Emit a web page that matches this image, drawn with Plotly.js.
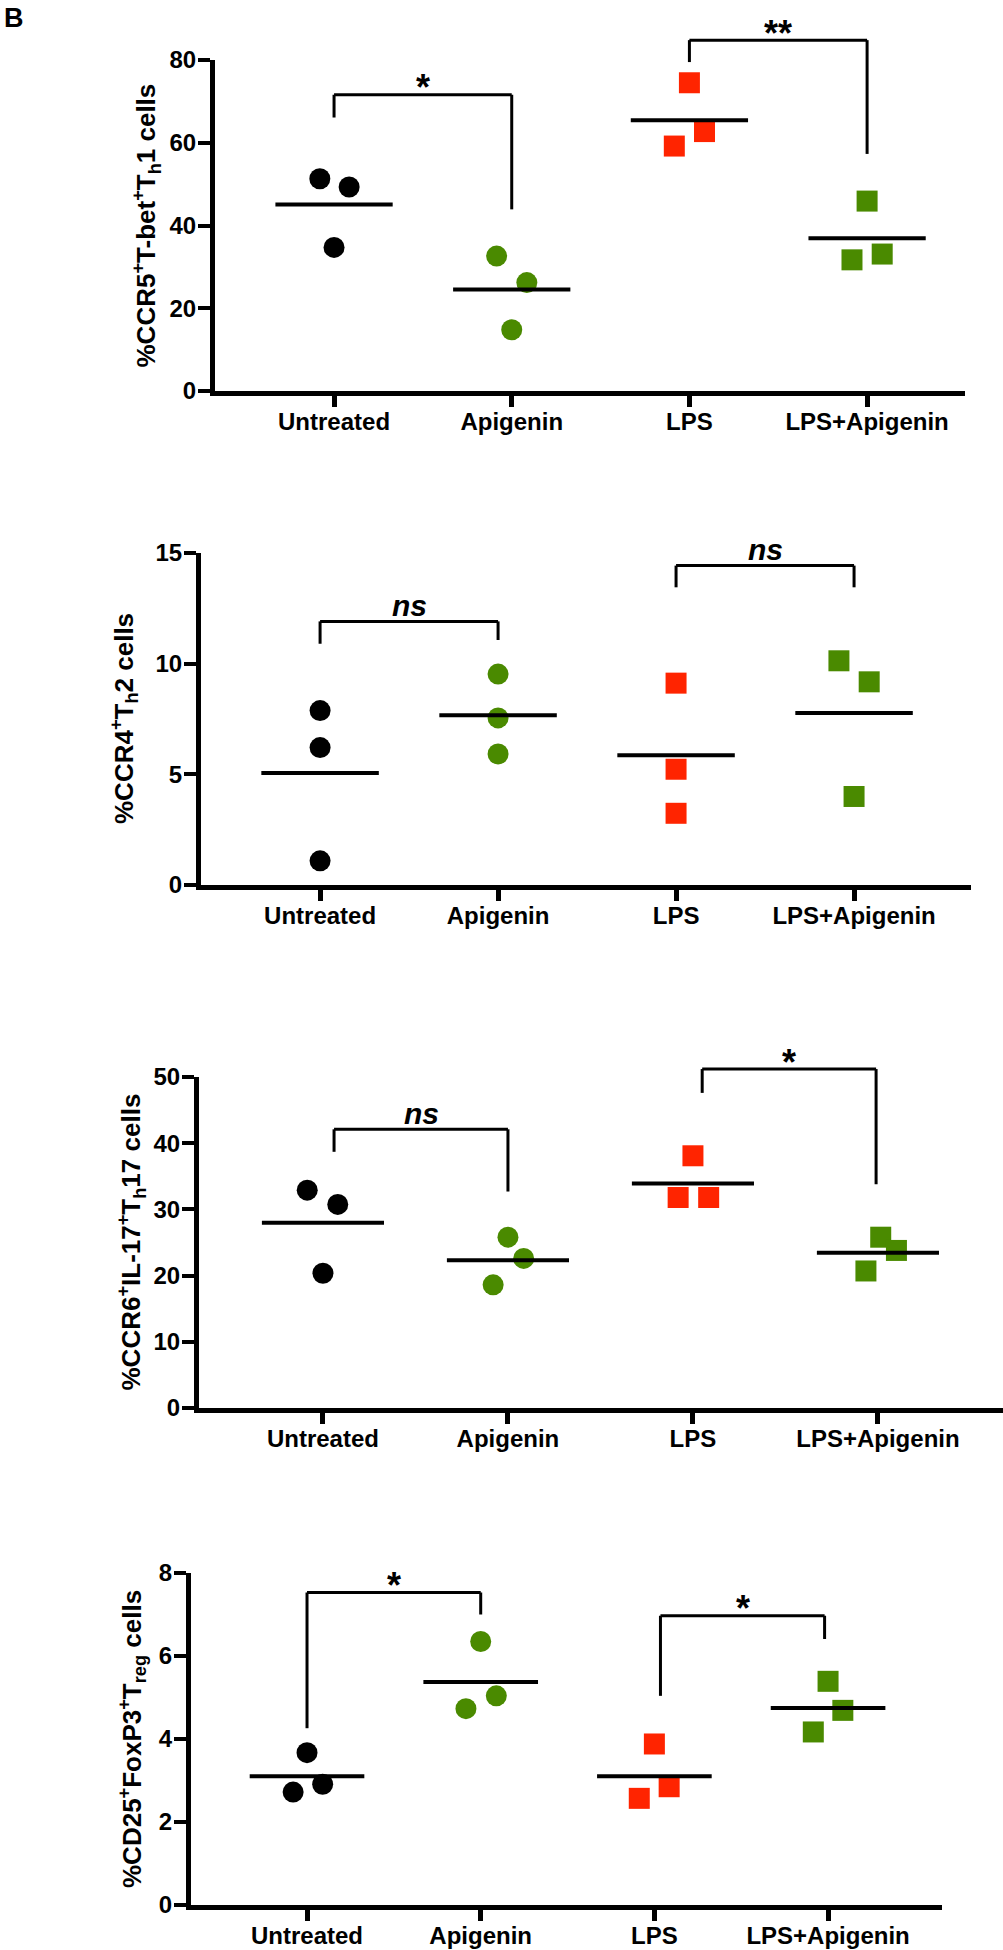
<!DOCTYPE html>
<html>
<head>
<meta charset="utf-8">
<script src="https://cdn.plot.ly/plotly-3.0.1.min.js"></script>
<style>
html, body { margin: 0; padding: 0; background: #ffffff; }
#chart { width: 1003px; height: 1950px; }
</style>
</head>
<body>
<div id="chart"></div>
<script>
// ---------- DATA ----------
const categories = ['Untreated', 'Apigenin', 'LPS', 'LPS+Apigenin'];

const th1Untreated    = [51.3, 49.3, 34.7];
const th1Apigenin     = [32.6, 26.2, 14.8];
const th1Lps          = [74.5, 62.7, 59.2];
const th1LpsApigenin  = [45.9, 31.7, 33.1];

const th2Untreated    = [7.88, 6.21, 1.09];
const th2Apigenin     = [9.53, 7.55, 5.92];
const th2Lps          = [9.12, 5.23, 3.24];
const th2LpsApigenin  = [10.13, 9.18, 4.0];

const th17Untreated   = [32.9, 30.75, 20.35];
const th17Apigenin    = [25.8, 22.6, 18.6];
const th17Lps         = [38.1, 31.8, 31.8];
const th17LpsApigenin = [25.8, 23.8, 20.7];

const tregUntreated   = [3.67, 2.91, 2.72];
const tregApigenin    = [6.35, 5.04, 4.73];
const tregLps         = [3.88, 2.85, 2.57];
const tregLpsApigenin = [5.39, 4.69, 4.17];

const yTitles = [
  '%CCR5<sup>+</sup>T-bet<sup>+</sup>T<sub>h</sub>1 cells',
  '%CCR4<sup>+</sup>T<sub>h</sub>2 cells',
  '%CCR6<sup>+</sup>IL-17<sup>+</sup>T<sub>h</sub>17 cells',
  '%CD25<sup>+</sup>FoxP3<sup>+</sup>T<sub>reg</sub> cells'
];
const yMax   = [80, 15, 50, 8];
const yStep  = [20, 5, 10, 2];

const th1Sig  = ['*', '**'];
const th2Sig  = ['ns', 'ns'];
const th17Sig = ['ns', '*'];
const tregSig = ['*', '*'];

// ---------- STYLE / PLACEMENT ----------
const W = 1003, H = 1950;
const FONT = 'Liberation Sans, Arial, Helvetica, sans-serif';
const BLACK = '#000000', GREEN = '#4a8a00', RED = '#ff2400';
const groupColors  = [BLACK, GREEN, RED, GREEN];
const groupSymbols = ['circle', 'circle', 'square', 'square'];

const panels = [
  { groups: [th1Untreated, th1Apigenin, th1Lps, th1LpsApigenin], sig: th1Sig,
    box: {left: 215, right: 965, top: 60, bottom: 391}, xr: [-0.670, 3.551], titleX: 147,
    jitter: [[-0.08, 0.085, 0], [-0.085, 0.085, 0], [0, 0.085, -0.085], [0, -0.085, 0.085]],
    brackets: [{a: 0, b: 1, h: 71.6, l: 66.1, r: 43.9}, {a: 2, b: 3, h: 84.8, l: 79.5, r: 57.3}] },
  { groups: [th2Untreated, th2Apigenin, th2Lps, th2LpsApigenin], sig: th2Sig,
    box: {left: 201, right: 971, top: 553, bottom: 885}, xr: [-0.669, 3.657], titleX: 124,
    jitter: [[0, 0, 0], [0, 0, 0], [0, 0, 0], [-0.085, 0.085, 0]],
    brackets: [{a: 0, b: 1, h: 11.91, l: 10.9, r: 11.07}, {a: 2, b: 3, h: 14.43, l: 13.45, r: 13.45}] },
  { groups: [th17Untreated, th17Apigenin, th17Lps, th17LpsApigenin], sig: th17Sig,
    box: {left: 199, right: 1003, top: 1077, bottom: 1408}, xr: [-0.670, 3.676], titleX: 131,
    jitter: [[-0.085, 0.08, 0], [0, 0.085, -0.08], [0, -0.08, 0.085], [0.015, 0.1, -0.065]],
    brackets: [{a: 0.06, b: 1, h: 42.1, l: 38.7, r: 32.7}, {a: 2.05, b: 2.99, h: 51.2, l: 47.6, r: 33.8}] },
  { groups: [tregUntreated, tregApigenin, tregLps, tregLpsApigenin], sig: tregSig,
    box: {left: 191, right: 942, top: 1573, bottom: 1905}, xr: [-0.668, 3.656], titleX: 132,
    jitter: [[0, 0.09, -0.08], [0, 0.09, -0.085], [0, 0.085, -0.087], [0, 0.085, -0.085]],
    brackets: [{a: 0, b: 1, h: 7.53, l: 4.26, r: 7.0}, {a: 2.035, b: 2.98, h: 6.97, l: 5.04, r: 6.41}] }
];

const mean = arr => arr.reduce((s, v) => s + v, 0) / arr.length;

const traces = [];
const shapes = [];
const annotations = [];
const layout = {
  width: W, height: H,
  margin: {l: 0, r: 0, t: 0, b: 0},
  paper_bgcolor: '#ffffff', plot_bgcolor: 'rgba(0,0,0,0)',
  showlegend: false,
  font: {family: FONT, color: BLACK},
  shapes: shapes, annotations: annotations
};

panels.forEach((p, k) => {
  const n = k + 1;
  const xa = 'x' + (n === 1 ? '' : n), ya = 'y' + (n === 1 ? '' : n);
  const xKey = 'xaxis' + (n === 1 ? '' : n), yKey = 'yaxis' + (n === 1 ? '' : n);

  const ticks = [];
  for (let v = 0; v <= yMax[k] + 1e-9; v += yStep[k]) ticks.push(v);

  layout[xKey] = {
    domain: [p.box.left / W, p.box.right / W],
    range: p.xr, anchor: ya, type: 'linear',
    tickmode: 'array', tickvals: [0, 1, 2, 3], ticktext: categories,
    showline: true, linewidth: 5, linecolor: BLACK,
    ticks: 'outside', ticklen: 11, tickwidth: 5, tickcolor: BLACK,
    ticklabelstandoff: -6,
    showgrid: false, zeroline: false, fixedrange: true,
    tickfont: {family: FONT, size: 24, weight: 'bold', color: BLACK}
  };
  layout[yKey] = {
    domain: [1 - p.box.bottom / H, 1 - p.box.top / H],
    range: [0, yMax[k]], anchor: xa,
    tickmode: 'array', tickvals: ticks,
    showline: true, linewidth: 5, linecolor: BLACK,
    ticks: 'outside', ticklen: 12, tickwidth: 4, tickcolor: BLACK,
    ticklabelstandoff: -3,
    showgrid: false, zeroline: false, fixedrange: true,
    tickfont: {family: FONT, size: 24, weight: 'bold', color: BLACK}
  };

  // points
  p.groups.forEach((vals, g) => {
    traces.push({
      type: 'scatter', mode: 'markers', xaxis: xa, yaxis: ya,
      x: vals.map((v, i) => g + p.jitter[g][i]), y: vals,
      marker: {symbol: groupSymbols[g], size: 21, color: groupColors[g], line: {width: 0}},
      hoverinfo: 'skip', cliponaxis: false
    });
  });
  // mean lines
  p.groups.forEach((vals, g) => {
    const m = mean(vals);
    traces.push({
      type: 'scatter', mode: 'lines', xaxis: xa, yaxis: ya,
      x: [g - 0.33, g + 0.33], y: [m, m],
      line: {color: BLACK, width: 4}, hoverinfo: 'skip'
    });
  });

  // significance brackets (y given in axis-domain fraction so they can rise above the axis top)
  const dom = v => v / yMax[k];
  p.brackets.forEach((b, j) => {
    const common = {type: 'line', xref: xa, yref: ya + ' domain', line: {color: BLACK, width: 3}};
    shapes.push(Object.assign({x0: b.a, x1: b.a, y0: dom(b.l), y1: dom(b.h)}, common));
    shapes.push(Object.assign({x0: b.a, x1: b.b, y0: dom(b.h), y1: dom(b.h)}, common));
    shapes.push(Object.assign({x0: b.b, x1: b.b, y0: dom(b.h), y1: dom(b.r)}, common));
    const isNs = p.sig[j] === 'ns';
    annotations.push({
      xref: xa, yref: ya + ' domain', x: (b.a + b.b) / 2, y: dom(b.h),
      text: p.sig[j], showarrow: false, xanchor: 'center', yanchor: 'middle',
      yshift: isNs ? 16 : 7,
      font: {family: FONT, size: isNs ? 30 : 36, weight: 'bold', style: isNs ? 'italic' : 'normal', color: BLACK}
    });
  });

  // y-axis title
  annotations.push({
    xref: 'paper', yref: 'paper',
    x: p.titleX / W, y: 1 - (p.box.top + p.box.bottom) / 2 / H,
    text: yTitles[k], textangle: -90, showarrow: false,
    xanchor: 'center', yanchor: 'middle',
    font: {family: FONT, size: 26, weight: 'bold', color: BLACK}
  });
});

// panel letter
annotations.push({
  xref: 'paper', yref: 'paper', x: 2 / W, y: 1 - 1 / H,
  xanchor: 'left', yanchor: 'top', text: 'B', showarrow: false,
  font: {family: FONT, size: 27, weight: 'bold', color: BLACK}
});

Plotly.newPlot('chart', traces, layout, {staticPlot: true, displayModeBar: false});
</script>
</body>
</html>
